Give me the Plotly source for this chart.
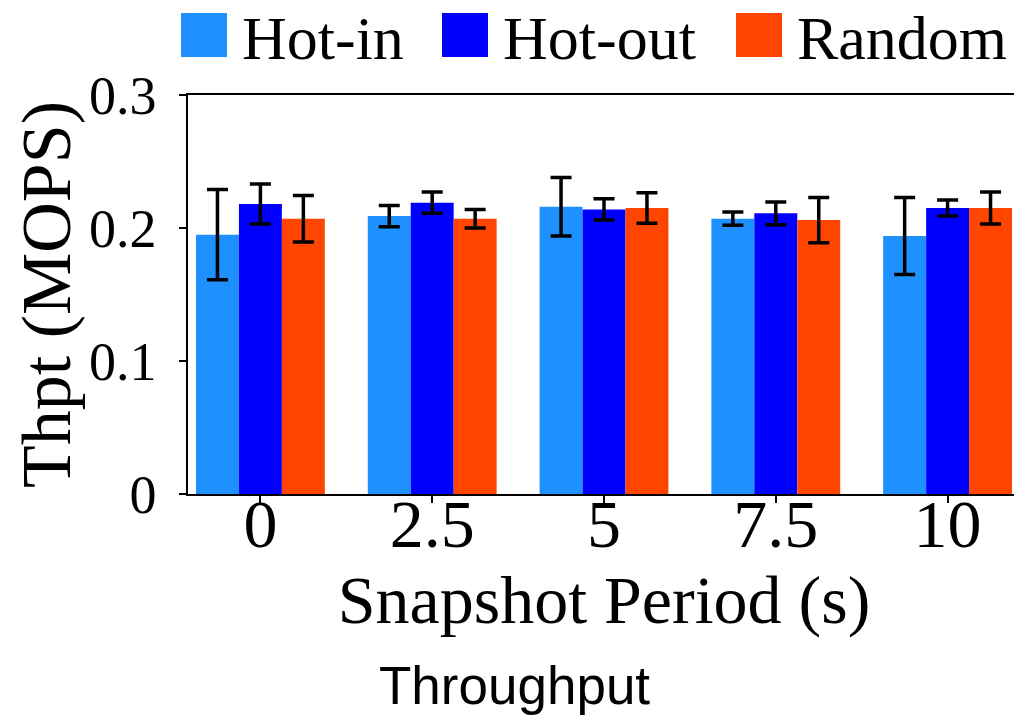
import plotly.graph_objects as go

categories = ["0", "2.5", "5", "7.5", "10"]
series_names = ["Hot-in", "Hot-out", "Random"]
hot_in = [0.195, 0.209, 0.216, 0.207, 0.194]
hot_out = [0.218, 0.219, 0.214, 0.211, 0.215]
random_ = [0.207, 0.207, 0.215, 0.206, 0.215]
hot_in_err = [0.034, 0.008, 0.022, 0.005, 0.029]
hot_out_err = [0.015, 0.008, 0.008, 0.0085, 0.006]
random_err = [0.0175, 0.007, 0.0115, 0.017, 0.012]
colors = ["#1E90FF", "#0000FF", "#FF4500"]

W, H = 1022, 724
OFF = 8  # page body margin offset
L, R, T, B = 180, 10, 87, 238
pw, ph = W - L - R, H - T - B

def px2paper(x, y):
    # screen pixel -> paper coordinate
    return (x - OFF - L) / pw, (H - B - (y - OFF)) / ph

fig = go.Figure()
for name, vals, errs, col in zip(series_names, [hot_in, hot_out, random_],
                                 [hot_in_err, hot_out_err, random_err], colors):
    fig.add_trace(go.Bar(
        x=categories, y=vals, name=name, marker_color=col, marker_line_width=0,
        error_y=dict(type="data", array=errs, color="black", thickness=3.5, width=10.5),
        showlegend=False,
    ))

serif = "Liberation Serif, Times New Roman, serif"

# manual legend (large square swatches)
leg_sq_x = [181, 442, 736]
for name, col, sx in zip(series_names, colors, leg_sq_x):
    x0, y0 = px2paper(sx, 57)
    x1, y1 = px2paper(sx + 46, 13)
    fig.add_shape(type="rect", xref="paper", yref="paper", x0=x0, y0=y0, x1=x1, y1=y1,
                  fillcolor=col, line_width=0)
    tx, ty = px2paper(sx + 60, 38)
    fig.add_annotation(text=name, xref="paper", yref="paper", x=tx, y=ty,
                       xanchor="left", yanchor="middle", showarrow=False, borderpad=0,
                       font=dict(family=serif, size=62, color="black"))

# bottom caption
cx, cy = px2paper(514, 685)
fig.add_annotation(text="Throughput", xref="paper", yref="paper", x=cx, y=cy,
                   xanchor="center", yanchor="middle", showarrow=False,
                   font=dict(family="Liberation Sans, Arial, sans-serif", size=53, color="black"))

fig.update_layout(
    width=W, height=H,
    margin=dict(l=L, r=R, t=T, b=B, autoexpand=False),
    paper_bgcolor="white", plot_bgcolor="white",
    barmode="group", bargap=0.25, bargroupgap=0,
    font=dict(family=serif, color="black"),
    xaxis=dict(
        type="category", range=[-0.4215, 4.4215], automargin=False,
        showline=True, linecolor="black", linewidth=1.5, mirror=True,
        ticks="outside", ticklen=7, tickwidth=1.5, tickcolor="black",
        ticklabelstandoff=-37,
        tickfont=dict(family=serif, size=68),
        title=dict(text="Snapshot Period (s)", font=dict(family=serif, size=68), standoff=0),
        showgrid=False, zeroline=False,
    ),
    yaxis=dict(
        range=[0, 0.3], tickvals=[0, 0.1, 0.2, 0.3], ticktext=["0", "0.1", "0.2", "0.3"],
        automargin=False,
        showline=True, linecolor="black", linewidth=1.5, mirror=True,
        ticks="outside", ticklen=7, tickwidth=1.5, tickcolor="black",
        ticklabelstandoff=12,
        tickfont=dict(family=serif, size=54),
        title=dict(text="Thpt (MOPS)", font=dict(family=serif, size=70), standoff=6),
        showgrid=False, zeroline=False,
    ),
)

fig.write_html("out.html")
